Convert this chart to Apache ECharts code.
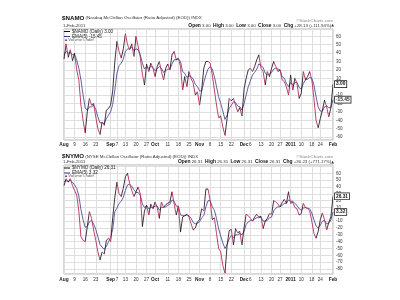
<!DOCTYPE html>
<html><head><meta charset="utf-8">
<script src="https://cdn.jsdelivr.net/npm/echarts/dist/echarts.min.js"></script>
<style>html,body{margin:0;padding:0;background:#fff}#c{width:400px;height:300px}</style>
</head><body><div id="c"></div>
<script>
// ---- categories (trading days) ----
const startDate = '2010-08-02';
const endDate = '2011-02-01';
const holidays = ['2010-09-06', '2010-11-25', '2010-12-24', '2011-01-17'];

// ---- x tick labels ----
const tickDates = ['2010-08-02','2010-08-09','2010-08-16','2010-08-23','2010-09-01','2010-09-07','2010-09-13','2010-09-20','2010-09-27','2010-10-01','2010-10-11','2010-10-18','2010-10-25','2010-11-01','2010-11-08','2010-11-15','2010-11-22','2010-12-01','2010-12-06','2010-12-13','2010-12-20','2010-12-27','2011-01-03','2011-01-10','2011-01-18','2011-01-24','2011-02-01'];
const tickTexts = ['Aug','9','16','23','Sep','7','13','20','27','Oct','11','18','25','Nov','8','15','22','Dec','6','13','20','27','2011','10','18','24','Feb'];
const boldTicks = ['Aug','Sep','Oct','Nov','Dec','2011','Feb'];

// ---- $NAMO ----
const namoClose = [33,51,35,44,31, 40,20,8,-22,-40, -55,-30,-14,-22,-20, -36,-50,-57,-42,-46,
  -28,-26,-22,-5,30, 54,42,34,45,63, 50,44,51,36,60, 48,35,15,2,27,
  18,28,22,12,24, 30,18,8,22,27, 20,38,42,32,34, 24,-4,12,0,18,
  10,4,-10,-6,-22, -4,22,30,30,28, 14,-4,-22,-37,-35, -48,-58,-38,-14,-17,
  -14,-22,-30,-25,-35, -3,10,20,22,18, 24,32,38,22,18, 2,18,12,22,30,
  24,18,20,8,6, 0,-10,14,-4,10, 4,-14,-8,18,8, 12,18,8,-14,-40,
  -49,-38,-28,-16,-24, -36,-25.13,3.00];
const namoEma = [38,42,40,41,38, 38,32,22,8,-10, -25,-28,-24,-24,-22, -27,-36,-43,-43,-44,
  -38,-34,-30,-21,-4, 16,25,28,33,42, 45,45,47,43,45, 44,38,28,21,24,
  22,24,23,19,21, 24,22,17,19,21, 21,27,32,32,33, 30,18,16,11,13,
  12,9,3,0,-5, -5,5,14,21,24, 21,12,0,-12,-20, -29,-39,-34,-26,-22,
  -18,-19,-23,-24,-28, -20,-10,0,7,14, 17,21,27,25,23, 16,14,15,17,21,
  22,21,20,12,10, 4,0,5,2,5, 5,-1,-3,4,8, 9,11,10,2,-12,
  -24,-29,-29,-24,-23, -25,-24.7,-15.45];

// ---- $NYMO ----
const nymoClose = [42,52,47,52,42, 35,28,5,-33,-38, -40,-18,4,-6,-23, -38,-55,-67,-55,-58,
  -38,-35,-40,-5,25, 47,30,26,38,55, 60,45,35,26,33, 40,30,-18,5,13,
  -1,15,8,18,10, -6,18,10,14,16, 18,33,15,-1,12, -26,-4,-2,0,-4,
  -14,-23,-20,-11,-8, 8,5,37,37,20, -8,-5,-28,-50,-55, -75,-86,-45,-24,-22,
  -45,-21,-27,-25,-45, -20,0,-2,-6,-10, -4,0,-4,-3,-21, -10,-6,1,0,20,
  18,15,11,17,22, 16,33,16,18,10, 8,-1,1,16,10, 8,5,-10,-28,-35,
  -25,-8,2,-8,-23, -12,-3.92,26.31];
const nymoEma = [48,49,48,50,47, 43,38,27,7,-8, -19,-18,-11,-9,-14, -22,-33,-44,-48,-51,
  -47,-40,-34,-22,4, 9,16,19,25,35, 43,44,41,36,32, 32,28,15,10,13,
  8,10,10,12,12, 6,10,10,11,13, 15,21,19,12,12, -1,-2,-2,-1,-2,
  -6,-12,-14,-13,-11, -5,-2,11,20,20, 11,6,-6,-21,-32, -42,-50,-44,-36,-31,
  -34,-30,-30,-28,-30, -25,-15,-11,-9,-9, -7,-5,-5,-4,-10, -10,-9,-5,-4,5,
  9,11,11,13,16, 16,21,19,19,16, 13,8,6,9,10, 9,8,2,-8,-17,
  -20,-16,-10,-9,-14, -13,-8.18,3.32];

const UP = '#2e1a2c', DOWN = '#b82c58', EMA_C = '#3a3a8a';
const FONT = 'Liberation Sans';

function buildDays() {
  const out = [];
  let d = new Date(startDate + 'T00:00:00Z');
  const e = new Date(endDate + 'T00:00:00Z');
  while (d <= e) {
    const w = d.getUTCDay();
    const s = d.toISOString().slice(0, 10);
    if (w !== 0 && w !== 6 && !holidays.includes(s)) out.push(s);
    d = new Date(d.getTime() + 86400000);
  }
  return out;
}
const days = buildDays();
const labelMap = {};
tickDates.forEach((d, i) => { labelMap[d] = tickTexts[i]; });
const isTick = (i, v) => labelMap[v] !== undefined;

function dirPieces(arr) {
  const p = [{ lte: 0, color: UP }];
  for (let i = 1; i < arr.length; i++) p.push({ gt: i - 1, lte: i, color: arr[i] >= arr[i - 1] ? UP : DOWN });
  return p;
}

function xAxisFor(g, margin) {
  return {
    type: 'category', gridIndex: g, data: days, boundaryGap: false,
    axisLine: { show: false }, axisTick: { show: false },
    axisLabel: {
      interval: isTick, margin: margin, fontSize: 4.6, color: '#333', fontFamily: FONT,
      formatter: v => { const t = labelMap[v]; return boldTicks.includes(t) ? '{b|' + t + '}' : t; },
      rich: { b: { fontWeight: 'bold', fontSize: 4.8, color: '#222', fontFamily: FONT } }
    },
    splitLine: { show: true, interval: isTick, lineStyle: { color: '#dedede', width: 1 } }
  };
}
function yAxisFor(g, min, max, n, labelMax) {
  return {
    type: 'value', gridIndex: g, position: 'right', min: min, max: max, splitNumber: n,
    axisLine: { show: false }, axisTick: { show: false },
    axisLabel: { fontSize: 4.5, color: '#333', margin: 3, fontFamily: FONT, showMinLabel: false, showMaxLabel: false,
      formatter: v => (v > labelMax ? '' : String(v)) },
    splitLine: { lineStyle: { color: '#dedede', width: 1 } }
  };
}
function boxPoint(value, color) {
  return {
    symbol: 'rect', symbolSize: 0, silent: true,
    data: [{ coord: [days[days.length - 1], value], value: value }],
    label: {
      show: true, position: 'right', distance: 2,
      formatter: p => Number(p.value).toFixed(2),
      fontSize: 4.8, fontWeight: 'bold', color: color, fontFamily: FONT,
      backgroundColor: '#fff', borderColor: '#222', borderWidth: 0.8, padding: [1, 1, 0, 1]
    }
  };
}
function priceSeries(name, data, g, mp) {
  return {
    name: name, type: 'line', xAxisIndex: g, yAxisIndex: g, data: data, symbol: 'none',
    lineStyle: { width: 0.9 }, z: 4, markPoint: mp
  };
}
function emaSeries(name, data, g, mp) {
  return {
    name: name, type: 'line', xAxisIndex: g, yAxisIndex: g, data: data, symbol: 'none',
    lineStyle: { width: 0.8, color: EMA_C }, itemStyle: { color: EMA_C }, z: 3, markPoint: mp
  };
}
const last = a => a[a.length - 1].toFixed(2);
const namoName = '$NAMO (Daily) ' + last(namoClose);
const namoEmaName = 'EMA(5) ' + last(namoEma);
const nymoName = '$NYMO (Daily) ' + last(nymoClose);
const nymoEmaName = 'EMA(5) ' + last(nymoEma);

function header(sym, desc, top) {
  return { text: '{b|' + sym + '} {n|' + desc + '}', left: 62, top: top, padding: 0,
    textStyle: { fontSize: 4.4, fontWeight: 'normal', fontFamily: FONT,
      rich: { b: { fontWeight: 'bold', fontSize: 6.2, color: '#111', fontFamily: FONT },
              n: { fontSize: 4.4, color: '#333', fontFamily: FONT } } } };
}
function ohlc(v, chg, top) {
  const n = (t) => '{b|' + t + '} {n|' + v + '}';
  return { text: n('Open') + '  ' + n('High') + '  ' + n('Low') + '  ' + n('Close') + '  {b|Chg} {n|' + chg + '}{u|▲}',
    right: 66, top: top, padding: 0,
    textStyle: { fontSize: 4.4, fontWeight: 'normal', fontFamily: FONT,
      rich: { b: { fontWeight: 'bold', fontSize: 4.9, color: '#111', fontFamily: FONT },
              n: { fontSize: 4.4, color: '#333', fontFamily: FONT },
              u: { fontSize: 3.5, color: '#333', fontFamily: 'DejaVu Sans' } } } };
}
function small(text, pos, color) {
  return Object.assign({ text: text, padding: 0, textStyle: { fontSize: 4.4, color: color, fontWeight: 'normal', fontFamily: FONT } }, pos);
}
function legendFor(names, colors, top) {
  return {
    data: names.map((n, i) => ({ name: n, itemStyle: { color: colors[i] } })),
    left: 64, top: top, orient: 'vertical', icon: 'rect', itemWidth: 6, itemHeight: 1,
    itemGap: 0, padding: 0, selectedMode: false,
    textStyle: { fontSize: 4.6, color: '#222', lineHeight: 4.4, padding: [0, 0, 0, -3], fontFamily: FONT }
  };
}

const chart = echarts.init(document.getElementById('c'), null, { renderer: 'canvas' });
chart.setOption({
  animation: false,
  backgroundColor: '#fff',
  title: [
    header('$NAMO', '(Nasdaq McClellan Oscillator (Ratio Adjusted) (EOD)) INDX', 15),
    small('1-Feb-2011', { left: 63, top: 23.5 }, '#333'),
    small('©StockCharts.com', { right: 67, top: 18.5 }, '#888'),
    ohlc('3.00', '+28.13 (+111.94%)', 23),
    header('$NYMO', '(NYSE McClellan Oscillator (Ratio Adjusted) (EOD)) INDX', 153.5),
    small('1-Feb-2011', { left: 63, top: 160 }, '#333'),
    small('©StockCharts.com', { right: 67, top: 154.5 }, '#888'),
    ohlc('26.31', '+30.23 (+771.17%)', 159.5)
  ],
  legend: [
    legendFor([namoName, namoEmaName], ['#111', EMA_C], 29),
    legendFor([nymoName, nymoEmaName], ['#111', EMA_C], 165.5)
  ],
  graphic: [
    { type: 'text', left: 64, top: 37.4, style: { text: '▲Volume undef', fontSize: 4.2, fill: '#555', fontFamily: FONT } },
    { type: 'text', left: 64, top: 173.8, style: { text: '▲Volume undef', fontSize: 4.2, fill: '#555', fontFamily: FONT } }
  ],
  grid: [
    { left: 64, right: 67, top: 29, height: 111, show: true, borderColor: '#b0b0b0', borderWidth: 1, backgroundColor: '#fff' },
    { left: 64, right: 67, top: 165, height: 109, show: true, borderColor: '#b0b0b0', borderWidth: 1, backgroundColor: '#fff' }
  ],
  xAxis: [xAxisFor(0, 2), xAxisFor(1, 3)],
  yAxis: [yAxisFor(0, -63.5, 68.7, 13, 60), yAxisFor(1, -87.3, 72.1, 16, 60)],
  visualMap: [
    { show: false, type: 'piecewise', seriesIndex: 0, dimension: 0, pieces: dirPieces(namoClose) },
    { show: false, type: 'piecewise', seriesIndex: 2, dimension: 0, pieces: dirPieces(nymoClose) }
  ],
  series: [
    priceSeries(namoName, namoClose, 0, boxPoint(namoClose[namoClose.length - 1], '#111')),
    emaSeries(namoEmaName, namoEma, 0, boxPoint(namoEma[namoEma.length - 1], '#222')),
    priceSeries(nymoName, nymoClose, 1, boxPoint(nymoClose[nymoClose.length - 1], '#111')),
    emaSeries(nymoEmaName, nymoEma, 1, boxPoint(nymoEma[nymoEma.length - 1], '#222'))
  ]
});
</script>
</body></html>
